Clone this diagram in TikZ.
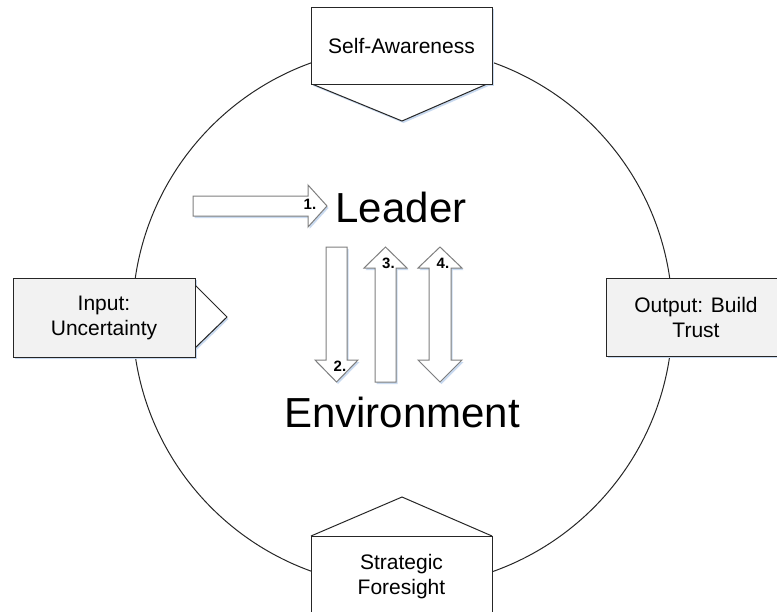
\documentclass[tikz,border=0pt]{standalone}
\usepackage{fontspec}
\setmainfont{Liberation Sans}
\definecolor{boxgray}{HTML}{F2F2F2}
\definecolor{edge}{HTML}{262626}
\definecolor{arrowedge}{HTML}{7F7F7F}
\definecolor{shade}{HTML}{C9DAF0}
\begin{document}
\begin{tikzpicture}[x=1pt,y=-1pt,
  shapeline/.style={draw=edge,line width=1pt,line join=miter},
  blockarrow/.style={draw=arrowedge,fill=white,line width=1pt,line join=miter},
  sh/.style={shift={(1.5,2)},fill=shade,draw=none},
  boxnode/.style={draw=edge,line width=1pt,inner sep=0pt,align=center,
    font=\fontsize{21}{25}\selectfont},
  bigtext/.style={font=\fontsize{42}{48}\selectfont,inner sep=0pt,anchor=base},
  numtext/.style={font=\fontsize{15}{17}\selectfont\bfseries,inner sep=0pt}]
\useasboundingbox (0,0) rectangle (777,611);
\begin{scope}
\clip (0,0) rectangle (777,611);
% ring
\node[circle,draw=edge,line width=1pt,minimum size=540pt,inner sep=0pt] (ring) at (402.5,317) {};
% shadows
\fill[sh] (311,7) rectangle (492,84);
\fill[sh] (312,84) -- (402,121) -- (487,84) -- cycle;
\fill[sh] (13,278) rectangle (195,357);
\fill[sh] (195,285) -- (227,317) -- (195,348) -- cycle;
\fill[sh] (606,278) rectangle (786,356);
\fill[sh] (311,536) -- (402,497) -- (492,536) -- cycle;
% triangles
\draw[shapeline,fill=white] (312,84) -- (402,121) -- (487,84);
\draw[shapeline,fill=white] (195,285) -- (227,317) -- (195,348);
\draw[shapeline,fill=white] (311,536) -- (402,497) -- (492,536);
% boxes
\node[boxnode,fill=white,minimum width=181pt,minimum height=77pt] (self) at (401.5,45.5) {Self-Awareness};
\node[boxnode,fill=boxgray,minimum width=182pt,minimum height=79pt] (input) at (104,317.5) {Input:\\Uncertainty};
\node[boxnode,fill=boxgray,minimum width=180pt,minimum height=78pt] (output) at (696,317) {Output: Build\\Trust};
\node[boxnode,fill=white,minimum width=181pt,minimum height=82pt] (foresight) at (401.5,577) {Strategic\\Foresight};
\end{scope}
% block arrow shadows
\fill[sh] (193,196) -- (308,196) -- (308,185) -- (327,206) -- (308,227) -- (308,216) -- (193,216) -- cycle;
\fill[sh] (326,247) -- (347,247) -- (347,360) -- (358,360) -- (336.5,382) -- (315,360) -- (326,360) -- cycle;
\fill[sh] (375,382) -- (396,382) -- (396,268) -- (407,268) -- (385.5,247) -- (364,268) -- (375,268) -- cycle;
\fill[sh] (440,247) -- (462,268) -- (451,268) -- (451,360) -- (462,360) -- (440,382) -- (418,360) -- (429,360) -- (429,268) -- (418,268) -- cycle;
% block arrows
\draw[blockarrow] (193,196) -- (308,196) -- (308,185) -- (327,206) -- (308,227) -- (308,216) -- (193,216) -- cycle;
\draw[blockarrow] (326,247) -- (347,247) -- (347,360) -- (358,360) -- (336.5,382) -- (315,360) -- (326,360) -- cycle;
\draw[blockarrow] (375,382) -- (396,382) -- (396,268) -- (407,268) -- (385.5,247) -- (364,268) -- (375,268) -- cycle;
\draw[blockarrow] (440,247) -- (462,268) -- (451,268) -- (451,360) -- (462,360) -- (440,382) -- (418,360) -- (429,360) -- (429,268) -- (418,268) -- cycle;
% labels
\node[numtext] (n1) at (310,204) {1.};
\node[numtext] (n2) at (340,366) {2.};
\node[numtext] (n3) at (388.5,263.5) {3.};
\node[numtext] (n4) at (443,263.5) {4.};
\node[bigtext] (leader) at (401,222) {Leader};
\node[bigtext] (env) at (402,427) {Environment};
\end{tikzpicture}
\end{document}
